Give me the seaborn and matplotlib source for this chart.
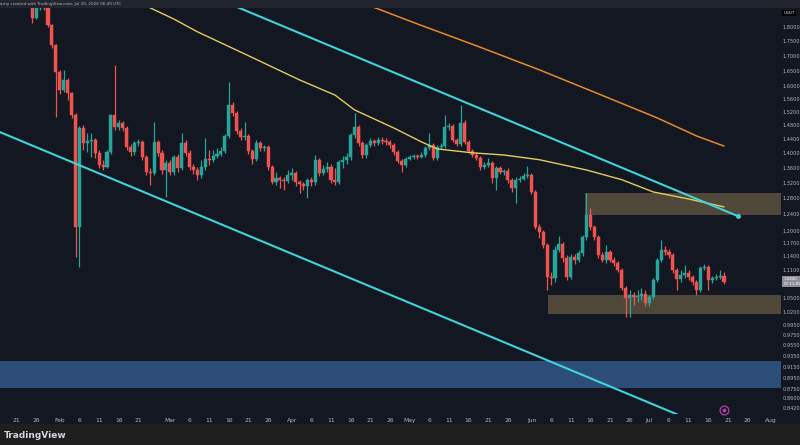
import numpy as np
import pandas as pd
import matplotlib
matplotlib.use("Agg")
import matplotlib.pyplot as plt
import matplotlib.dates as mdates
from matplotlib.patches import Rectangle
from matplotlib.ticker import NullLocator
import seaborn as sns

# ---- daily candles, 2026-01-25 .. 2026-07-20 (open = previous close) ----
start_day = "2026-01-25"
first_open = 1.870
close = [1.833, 1.870, 1.915, 1.870, 1.808, 1.737, 1.646, 1.588, 1.620, 1.579,
         1.511, 1.209, 1.472, 1.429, 1.435, 1.438, 1.401, 1.368, 1.362, 1.404,
         1.511, 1.475, 1.487, 1.472, 1.418, 1.404, 1.429, 1.432, 1.390, 1.349,
         1.346, 1.432, 1.401, 1.354, 1.373, 1.349, 1.390, 1.360, 1.429, 1.401,
         1.362, 1.354, 1.341, 1.362, 1.384, 1.382, 1.393, 1.398, 1.406, 1.449,
         1.541, 1.517, 1.464, 1.446, 1.449, 1.406, 1.384, 1.429, 1.415, 1.418,
         1.362, 1.322, 1.333, 1.328, 1.325, 1.341, 1.346, 1.322, 1.317, 1.312,
         1.328, 1.322, 1.382, 1.346, 1.357, 1.362, 1.328, 1.322, 1.376, 1.382,
         1.390, 1.452, 1.475, 1.429, 1.395, 1.423, 1.435, 1.429, 1.438, 1.435,
         1.432, 1.423, 1.404, 1.379, 1.368, 1.384, 1.390, 1.393, 1.390, 1.395,
         1.415, 1.423, 1.387, 1.418, 1.420, 1.475, 1.478, 1.438, 1.426, 1.487,
         1.432, 1.406, 1.395, 1.387, 1.362, 1.368, 1.373, 1.333, 1.360, 1.349,
         1.352, 1.328, 1.307, 1.328, 1.330, 1.338, 1.341, 1.296, 1.209, 1.197,
         1.166, 1.095, 1.092, 1.155, 1.169, 1.137, 1.095, 1.139, 1.132, 1.148,
         1.185, 1.238, 1.209, 1.185, 1.143, 1.132, 1.150, 1.132, 1.126, 1.110,
         1.071, 1.050, 1.056, 1.052, 1.054, 1.058, 1.039, 1.052, 1.088, 1.132,
         1.155, 1.150, 1.143, 1.110, 1.090, 1.099, 1.103, 1.095, 1.084, 1.066,
         1.114, 1.117, 1.088, 1.092, 1.095, 1.097, 1.084]
high = [1.877, 1.881, 1.930, 1.938, 1.870, 1.811, 1.740, 1.653, 1.653, 1.627,
        1.582, 1.517, 1.478, 1.481, 1.458, 1.458, 1.444, 1.409, 1.382, 1.409,
        1.514, 1.669, 1.496, 1.493, 1.478, 1.426, 1.435, 1.441, 1.438, 1.395,
        1.360, 1.490, 1.438, 1.409, 1.382, 1.382, 1.395, 1.398, 1.458, 1.438,
        1.409, 1.371, 1.362, 1.382, 1.444, 1.409, 1.409, 1.415, 1.418, 1.455,
        1.614, 1.551, 1.523, 1.472, 1.490, 1.455, 1.412, 1.438, 1.435, 1.423,
        1.423, 1.368, 1.349, 1.338, 1.336, 1.354, 1.360, 1.352, 1.328, 1.322,
        1.333, 1.336, 1.395, 1.387, 1.368, 1.376, 1.371, 1.360, 1.382, 1.393,
        1.401, 1.458, 1.517, 1.481, 1.435, 1.429, 1.444, 1.441, 1.446, 1.446,
        1.444, 1.438, 1.429, 1.409, 1.384, 1.390, 1.395, 1.398, 1.398, 1.404,
        1.420, 1.458, 1.429, 1.423, 1.429, 1.511, 1.487, 1.484, 1.444, 1.541,
        1.496, 1.438, 1.412, 1.404, 1.393, 1.376, 1.387, 1.379, 1.365, 1.365,
        1.357, 1.360, 1.333, 1.336, 1.338, 1.346, 1.365, 1.346, 1.301, 1.216,
        1.202, 1.171, 1.106, 1.164, 1.188, 1.174, 1.143, 1.146, 1.146, 1.155,
        1.190, 1.294, 1.256, 1.214, 1.190, 1.150, 1.166, 1.155, 1.139, 1.130,
        1.114, 1.075, 1.066, 1.062, 1.066, 1.071, 1.066, 1.056, 1.092, 1.137,
        1.178, 1.164, 1.157, 1.148, 1.114, 1.110, 1.121, 1.110, 1.099, 1.088,
        1.119, 1.123, 1.121, 1.097, 1.101, 1.110, 1.106]
low = [1.815, 1.829, 1.862, 1.862, 1.801, 1.727, 1.505, 1.576, 1.582, 1.557,
       1.502, 1.139, 1.117, 1.409, 1.404, 1.390, 1.387, 1.360, 1.354, 1.360,
       1.398, 1.467, 1.467, 1.464, 1.409, 1.393, 1.395, 1.420, 1.382, 1.341,
       1.314, 1.341, 1.393, 1.344, 1.283, 1.341, 1.341, 1.349, 1.354, 1.393,
       1.354, 1.344, 1.328, 1.333, 1.354, 1.368, 1.376, 1.387, 1.393, 1.401,
       1.444, 1.508, 1.455, 1.438, 1.438, 1.398, 1.371, 1.379, 1.406, 1.406,
       1.354, 1.317, 1.314, 1.307, 1.301, 1.320, 1.328, 1.312, 1.294, 1.301,
       1.281, 1.312, 1.314, 1.338, 1.341, 1.349, 1.320, 1.314, 1.317, 1.360,
       1.371, 1.382, 1.444, 1.420, 1.387, 1.387, 1.418, 1.420, 1.423, 1.426,
       1.423, 1.415, 1.395, 1.373, 1.349, 1.362, 1.382, 1.384, 1.384, 1.387,
       1.390, 1.409, 1.382, 1.382, 1.412, 1.415, 1.467, 1.432, 1.420, 1.420,
       1.426, 1.401, 1.390, 1.382, 1.354, 1.357, 1.362, 1.320, 1.301, 1.344,
       1.341, 1.320, 1.296, 1.268, 1.322, 1.328, 1.333, 1.291, 1.204, 1.183,
       1.160, 1.066, 1.077, 1.084, 1.150, 1.128, 1.088, 1.090, 1.123, 1.128,
       1.141, 1.178, 1.202, 1.178, 1.137, 1.128, 1.126, 1.128, 1.119, 1.106,
       1.066, 1.011, 1.011, 1.035, 1.041, 1.045, 1.033, 1.033, 1.048, 1.084,
       1.128, 1.143, 1.137, 1.103, 1.066, 1.084, 1.092, 1.088, 1.077, 1.056,
       1.062, 1.110, 1.066, 1.082, 1.088, 1.090, 1.079]

# ---- indicator lines ----
ma_fast_dates = ["2026-02-22", "2026-02-24", "2026-03-02", "2026-03-08", "2026-03-21",
                 "2026-04-03", "2026-04-12", "2026-04-17", "2026-04-27", "2026-05-04",
                 "2026-05-08", "2026-05-17", "2026-05-25", "2026-06-03", "2026-06-15",
                 "2026-06-24", "2026-07-02", "2026-07-11", "2026-07-20"]
ma_fast = [1.885, 1.870, 1.829, 1.783, 1.700, 1.620, 1.572, 1.526, 1.472, 1.432,
           1.412, 1.401, 1.395, 1.382, 1.354, 1.328, 1.296, 1.278, 1.258]
ma_slow_dates = ["2026-04-21", "2026-05-03", "2026-05-18", "2026-06-03", "2026-06-18",
                 "2026-07-03", "2026-07-13", "2026-07-20"]
ma_slow = [1.877, 1.811, 1.734, 1.653, 1.576, 1.502, 1.449, 1.420]

channel_top_dates = ["2026-03-13 18:00", "2026-07-23 13:00"]
channel_top = [1.900, 1.235]
channel_bottom_dates = ["2026-01-16 19:00", "2026-07-19 00:00"]
channel_bottom = [1.460, 0.803]

# zones: (start date, low, high)
zone_supply = ("2026-06-14 14:00", 1.238, 1.294)
zone_demand = ("2026-06-05 05:00", 1.016, 1.056)
zone_deep = ("2026-01-10", 0.877, 0.925)

price_ticks = [1.80, 1.75, 1.70, 1.65, 1.60, 1.56, 1.52, 1.48, 1.44, 1.40, 1.36, 1.32,
               1.28, 1.24, 1.20, 1.17, 1.14, 1.11, 1.05, 1.02, 0.995, 0.975, 0.955,
               0.935, 0.915, 0.895, 0.875, 0.860, 0.842]
date_ticks = ["2026-01-21", "2026-01-26", "2026-02-01", "2026-02-06", "2026-02-11",
              "2026-02-16", "2026-02-21", "2026-03-01", "2026-03-06", "2026-03-11",
              "2026-03-16", "2026-03-21", "2026-03-26", "2026-04-01", "2026-04-06",
              "2026-04-11", "2026-04-16", "2026-04-21", "2026-04-26", "2026-05-01",
              "2026-05-06", "2026-05-11", "2026-05-16", "2026-05-21", "2026-05-26",
              "2026-06-01", "2026-06-06", "2026-06-11", "2026-06-16", "2026-06-21",
              "2026-06-26", "2026-07-01", "2026-07-06", "2026-07-11", "2026-07-16",
              "2026-07-21", "2026-07-26", "2026-08-01"]
date_labels = ["21", "26", "Feb", "6", "11", "16", "21", "Mar", "6", "11", "16", "21",
               "26", "Apr", "6", "11", "16", "21", "26", "May", "6", "11", "16", "21",
               "26", "Jun", "6", "11", "16", "21", "26", "Jul", "6", "11", "16", "21",
               "26", "Aug"]

BG = "#131722"
TXT = "#b2b5be"
UP, DOWN = "#26a69a", "#ef5350"

sns.set_theme(style="dark", rc={"axes.facecolor": BG, "figure.facecolor": BG})
plt.rcParams["font.family"] = ["DejaVu Sans"]

# plot area ends a few pixels before the price scale so the labels fit
AX_RIGHT = 781
fig = plt.figure(figsize=(8, 4.45), dpi=100)
ax = fig.add_axes([0, 31 / 445, AX_RIGHT / 800, 414 / 445])
ax.set_facecolor(BG)
ax.set_yscale("log")
ax.set_ylim(0.8328, 1.8995)
t0 = pd.Timestamp("2026-01-01")
ax.set_xlim(mdates.date2num(t0 + pd.Timedelta(days=15.78)),
            mdates.date2num(t0 + pd.Timedelta(days=(AX_RIGHT + 62) / 3.93)))

# zones
x_right = mdates.date2num(pd.Timestamp("2026-08-10"))
for (d0, lo, hi), col in [(zone_supply, "#4f473a"), (zone_demand, "#4f473a"),
                          (zone_deep, "#2d4d79")]:
    x0 = mdates.date2num(pd.Timestamp(d0))
    ax.add_patch(Rectangle((x0, lo), x_right - x0, hi - lo, facecolor=col,
                           edgecolor="none", zorder=1))

# candles
dates = pd.date_range(start_day, periods=len(close), freq="D")
xs = mdates.date2num(dates)
c = np.array(close)
o = np.concatenate([[first_open], c[:-1]])
colors = np.where(c >= o, UP, DOWN)
ax.vlines(xs, low, high, colors=colors, linewidth=0.9, zorder=3)
ax.bar(xs, np.abs(c - o), bottom=np.minimum(o, c), width=0.78, color=colors,
       edgecolor=colors, linewidth=0.3, zorder=4)

# moving averages
sns.lineplot(x=pd.to_datetime(ma_fast_dates), y=ma_fast, ax=ax, color="#e3cc5e",
             linewidth=1.0, zorder=5)
sns.lineplot(x=pd.to_datetime(ma_slow_dates), y=ma_slow, ax=ax, color="#e8872b",
             linewidth=1.1, zorder=5)

# descending channel
ax.plot(pd.to_datetime(channel_top_dates), channel_top, color="#3fd3d8",
        linewidth=1.5, zorder=6, solid_capstyle="round")
ax.plot(pd.to_datetime(channel_top_dates[1:]), channel_top[1:], "o", ms=2.5,
        color="#3fd3d8", zorder=6)
ax.plot(pd.to_datetime(channel_bottom_dates), channel_bottom, color="#3fd3d8",
        linewidth=1.5, zorder=6)

# event marker
ev_x = mdates.date2num(pd.Timestamp("2026-07-20"))
ax.scatter([ev_x], [0.840], s=40, facecolor=BG, edgecolor="#b23fa6", linewidth=0.9,
           zorder=7, clip_on=False)
ax.scatter([ev_x], [0.840], s=3, color="#b23fa6", zorder=8, clip_on=False)

# axes styling
for s in ax.spines.values():
    s.set_visible(False)
ax.grid(False)
ax.yaxis.tick_right()
ax.yaxis.set_minor_locator(NullLocator())
ax.set_yticks(price_ticks)
ax.set_yticklabels([f"{v:.4f}" for v in price_ticks])
ax.set_xticks(mdates.date2num(pd.to_datetime(date_ticks)))
ax.set_xticklabels(date_labels)
ax.tick_params(axis="y", length=0, pad=1.0, labelsize=3.6, colors=TXT)
ax.tick_params(axis="x", length=0, pad=3, labelsize=4.3, colors=TXT)
ax.set_xlabel("")
ax.set_ylabel("")
if ax.get_legend():
    ax.get_legend().remove()

# price label on the scale
ax.text(1.003, 1.084, "1.0840\n07:11:05", transform=ax.get_yaxis_transform(),
        fontsize=2.9, color="white", va="center", ha="left", linespacing=1.1,
        bbox=dict(boxstyle="square,pad=0.25", facecolor="#8d9098", edgecolor="none"),
        zorder=9, clip_on=False)
ax.text(1.003, 1.852, "USDT", transform=ax.get_yaxis_transform(), fontsize=3.2,
        color="#d1d4dc", va="center", ha="left",
        bbox=dict(boxstyle="square,pad=0.25", facecolor="#000000", edgecolor="none"),
        zorder=9, clip_on=False)

# header and footer bands
fig.patches.append(Rectangle((0, 1 - 8 / 445), 1, 8 / 445, transform=fig.transFigure,
                             facecolor="#22252d", edgecolor="none", zorder=10))
fig.text(0.0, 1 - 4 / 445, "arny created with TradingView.com, Jul 20, 2026 06:49 UTC",
         fontsize=3.0, color=TXT, va="center", ha="left", zorder=11)
fig.patches.append(Rectangle((0, 0), 1, 21 / 445, transform=fig.transFigure,
                             facecolor="#1e1e1e", edgecolor="none", zorder=10))
fig.text(4 / 800, 10 / 445, "TradingView", fontsize=6.5, fontweight="bold",
         color="#d1d4dc", va="center", ha="left", zorder=11)

fig.savefig("out.png", dpi=100, facecolor=BG)
